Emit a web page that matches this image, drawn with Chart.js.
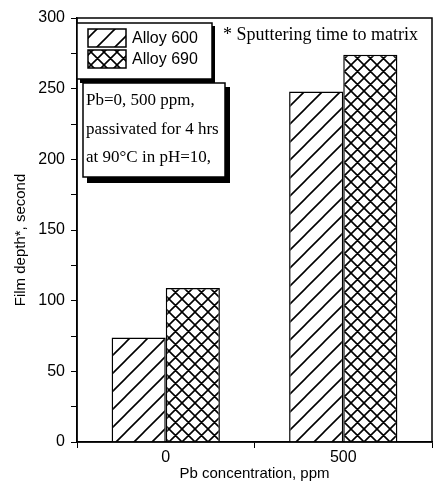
<!DOCTYPE html>
<html>
<head>
<meta charset="utf-8">
<script src="https://cdn.jsdelivr.net/npm/chart.js@4"></script>
<style>
  html, body { margin: 0; background: #fff; }
  #wrap { width: 437px; height: 483px; }
</style>
</head>
<body>
<div id="wrap"><canvas id="chart"></canvas></div>
<script>
const categories = ["0", "500"];
const alloy600 = [74, 248];
const alloy690 = [109, 274];
const seriesNames = ["Alloy 600", "Alloy 690"];
const yTitle = "Film depth*, second";
const noteLines = ["Pb=0, 500 ppm,", "passivated for 4 hrs", "at 90°C in pH=10,"];
const footNote = "* Sputtering time to matrix";

const canvas = document.getElementById("chart");
const ctx = canvas.getContext("2d");

// hatch fills like the scanned figure
function hatch(size, cross) {
  const c = document.createElement("canvas");
  c.width = size;
  c.height = size;
  const g = c.getContext("2d");
  g.fillStyle = "#fff";
  g.fillRect(0, 0, size, size);
  g.strokeStyle = "#000";
  g.lineWidth = 1.6;
  g.beginPath();
  g.moveTo(-2, size + 2); g.lineTo(size + 2, -2);
  g.moveTo(-2, 2); g.lineTo(2, -2);
  g.moveTo(size - 2, size + 2); g.lineTo(size + 2, size - 2);
  if (cross) {
    g.moveTo(-2, -2); g.lineTo(size + 2, size + 2);
    g.moveTo(size - 2, -2); g.lineTo(size + 2, 2);
    g.moveTo(-2, size - 2); g.lineTo(2, size + 2);
  }
  g.stroke();
  return ctx.createPattern(c, "repeat");
}

const fill600 = hatch(18, false);
const fill690 = hatch(13, true);

const sans = "'Liberation Sans', Arial, sans-serif";
const serif = "'Liberation Serif', 'Times New Roman', serif";

const overlay = {
  id: "overlay",
  afterDatasetsDraw(chart) {
    const c = chart.ctx;
    const a = chart.chartArea;
    c.save();
    c.strokeStyle = "#000";
    c.lineWidth = 1.5;
    c.strokeRect(a.left, a.top, a.right - a.left, a.bottom - a.top);
    c.restore();
  },
  afterDraw(chart) {
    const c = chart.ctx;
    c.save();

    // y title sits a bit below the axis middle in the original
    c.translate(21, 240);
    c.rotate(-Math.PI / 2);
    c.font = "15px " + sans;
    c.fillStyle = "#000";
    c.textAlign = "center";
    c.textBaseline = "middle";
    c.fillText(yTitle, 0, 0);
    c.setTransform(1, 0, 0, 1, 0, 0);
    c.textAlign = "left";

    // legend box
    c.fillStyle = "#000";
    c.fillRect(80, 26, 135, 57);
    c.fillStyle = "#fff";
    c.fillRect(77, 23, 135, 56);
    c.strokeStyle = "#000";
    c.lineWidth = 1.5;
    c.strokeRect(77, 23, 135, 56);
    const fills = [fill600, fill690];
    const rows = [38, 59];
    c.font = "16px " + sans;
    for (let i = 0; i < 2; i++) {
      c.fillStyle = fills[i];
      c.fillRect(88, rows[i] - 9, 38, 18);
      c.strokeRect(88, rows[i] - 9, 38, 18);
      c.fillStyle = "#000";
      c.fillText(seriesNames[i], 132, rows[i] + 1);
    }

    // note box
    c.fillStyle = "#000";
    c.fillRect(87, 87, 143, 96);
    c.fillStyle = "#fff";
    c.fillRect(83, 83, 142, 94);
    c.strokeRect(83, 83, 142, 94);
    c.fillStyle = "#000";
    c.font = "17px " + serif;
    const lineY = [101, 130, 158];
    noteLines.forEach((t, i) => c.fillText(t, 86, lineY[i]));

    c.font = "18px " + serif;
    c.fillText(footNote, 223, 35);
    c.restore();
  }
};

new Chart(canvas, {
  type: "bar",
  data: {
    labels: categories,
    datasets: [
      {
        label: seriesNames[0],
        data: alloy600,
        backgroundColor: fill600,
        borderColor: "#000",
        borderWidth: 1.5,
      },
      {
        label: seriesNames[1],
        data: alloy690,
        backgroundColor: fill690,
        borderColor: "#000",
        borderWidth: 1.5,
      },
    ],
  },
  options: {
    responsive: true,
    maintainAspectRatio: false,
    animation: false,
    layout: { padding: { top: 18, right: 5, left: 0, bottom: 0 } },
    datasets: { bar: { barPercentage: 1, categoryPercentage: 0.61 } },
    plugins: {
      legend: { display: false },
      tooltip: { enabled: false },
    },
    scales: {
      x: {
        afterFit: (s) => { s.height = 41; },
        grid: { drawOnChartArea: false, color: "#000", tickLength: 6, offset: true },
        border: { color: "#000", width: 1.5 },
        ticks: { color: "#000", font: { family: sans, size: 16 }, padding: 0 },
        title: {
          display: true,
          text: "Pb concentration, ppm",
          color: "#000",
          font: { family: sans, size: 15 },
          padding: { top: 4, bottom: 0 },
        },
      },
      y: {
        min: 0,
        max: 300,
        afterFit: (s) => { s.width = 77; },
        grid: { drawOnChartArea: false, color: "#000", tickLength: 6 },
        border: { color: "#000", width: 1.5 },
        ticks: {
          stepSize: 25,
          color: "#000",
          font: { family: sans, size: 16 },
          padding: 6,
          callback: (v) => (v % 50 ? "" : v),
        },
      },
    },
  },
  plugins: [overlay],
});
</script>
</body>
</html>
